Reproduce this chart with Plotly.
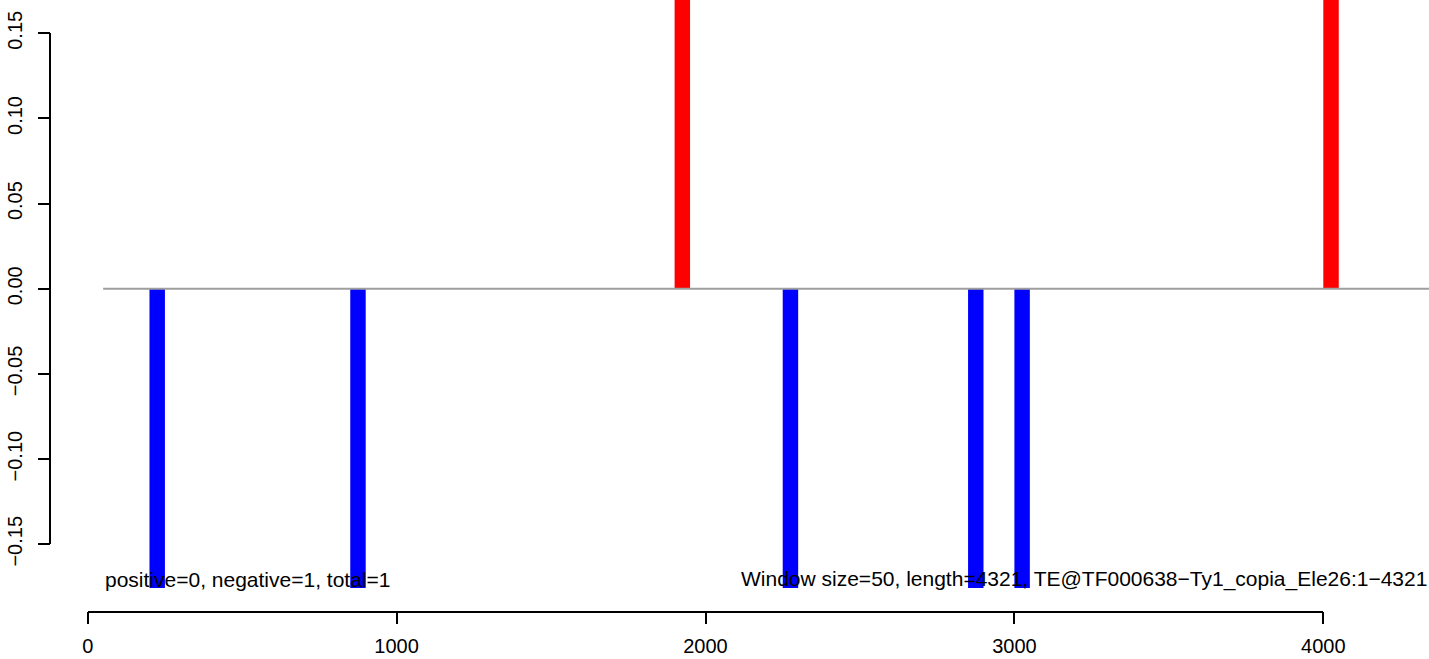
import plotly.graph_objects as go

# ---- data ----
window_size = 50
seq_length = 4321
neg_centers = [225, 875, 2275, 2875, 3025]
neg_values = [-0.1757, -0.1757, -0.1757, -0.1757, -0.1757]
pos_centers = [1925, 4025]
pos_values = [0.1757, 0.1757]
baseline_x = [50, 4371]
baseline_y = [0, 0]
x_ticks = [0, 1000, 2000, 3000, 4000]
y_ticks = [-0.15, -0.10, -0.05, 0.00, 0.05, 0.10, 0.15]
left_label = "positive=0, negative=1, total=1"
right_label = "Window size=50, length=4321, TE@TF000638\u2212Ty1_copia_Ele26:1\u22124321"

W, H = 1429, 659
FONT = "Liberation Sans, Arial, Helvetica, sans-serif"
FS = 21
TICK_FS = 20

fig = go.Figure()

fig.add_trace(go.Bar(x=neg_centers, y=neg_values, width=window_size,
                     marker=dict(color="#0000ff", line=dict(width=0)),
                     showlegend=False, hoverinfo="skip"))
fig.add_trace(go.Bar(x=pos_centers, y=pos_values, width=window_size,
                     marker=dict(color="#ff0000", line=dict(width=0)),
                     showlegend=False, hoverinfo="skip"))
fig.add_trace(go.Scatter(x=baseline_x, y=baseline_y, mode="lines",
                         line=dict(color="#9e9e9e", width=2),
                         showlegend=False, hoverinfo="skip"))
# invisible trace that anchors the detached R-style axes
fig.add_trace(go.Scatter(x=[x_ticks[0]], y=[y_ticks[0]], xaxis="x2", yaxis="y2",
                         mode="markers", marker=dict(opacity=0),
                         showlegend=False, hoverinfo="skip"))

# pixel calibration of the reference
px_per_x = (1323.3 - 87.7) / 4000.0
x0_px = 87.7
px_per_y = 85.15 / 0.05
y0_px = 288.7

x_lo = (0 - x0_px) / px_per_x
x_hi = (W - x0_px) / px_per_x
y_hi = y0_px / px_per_y
y_lo = -(H - y0_px) / px_per_y

axis_common = dict(showgrid=False, zeroline=False, showline=False,
                   showticklabels=False, ticks="", automargin=False)

fig.update_layout(
    width=W, height=H,
    margin=dict(l=0, r=0, t=0, b=0, autoexpand=False),
    paper_bgcolor="white", plot_bgcolor="rgba(0,0,0,0)",
    barmode="overlay",
    font=dict(family=FONT, size=FS, color="black"),
    xaxis=dict(domain=[0, 1], range=[x_lo, x_hi], **axis_common),
    yaxis=dict(domain=[0, 1], range=[y_lo, y_hi], **axis_common),
    xaxis2=dict(domain=[87.7 / W, 1323.3 / W], range=[0, 4000],
                anchor="free", position=(H - 611.7) / H, automargin=False,
                showgrid=False, zeroline=False, showline=True,
                linecolor="black", linewidth=1.5,
                ticks="outside", ticklen=12, tickwidth=1.5, tickcolor="black",
                tickvals=x_ticks, tickfont=dict(family=FONT, size=TICK_FS, color="black"),
                ticklabelstandoff=5),
    yaxis2=dict(domain=[(H - 544.3) / H, (H - 33.3) / H], range=[-0.15, 0.15],
                anchor="free", position=50.3 / W, automargin=False,
                showgrid=False, zeroline=False, showline=True,
                linecolor="black", linewidth=1.5,
                ticks="outside", ticklen=12, tickwidth=1.5, tickcolor="black",
                tickvals=y_ticks, tickformat=".2f", tickangle=-90,
                tickfont=dict(family=FONT, size=TICK_FS, color="black"),
                ticklabelstandoff=8),
)

text_y = -(579 - y0_px) / px_per_y
fig.add_annotation(x=baseline_x[0], y=text_y, xref="x", yref="y",
                   text=left_label, showarrow=False, xanchor="left", yanchor="middle",
                   font=dict(family=FONT, size=FS, color="black"))
fig.add_annotation(x=(1429 - x0_px) / px_per_x, y=text_y, xref="x", yref="y",
                   text=right_label, showarrow=False, xanchor="right", yanchor="middle",
                   font=dict(family=FONT, size=FS, color="black"))

fig.write_html("out.html", config={"displayModeBar": False},
               post_script="document.body.style.margin='0';document.body.style.padding='0';")
